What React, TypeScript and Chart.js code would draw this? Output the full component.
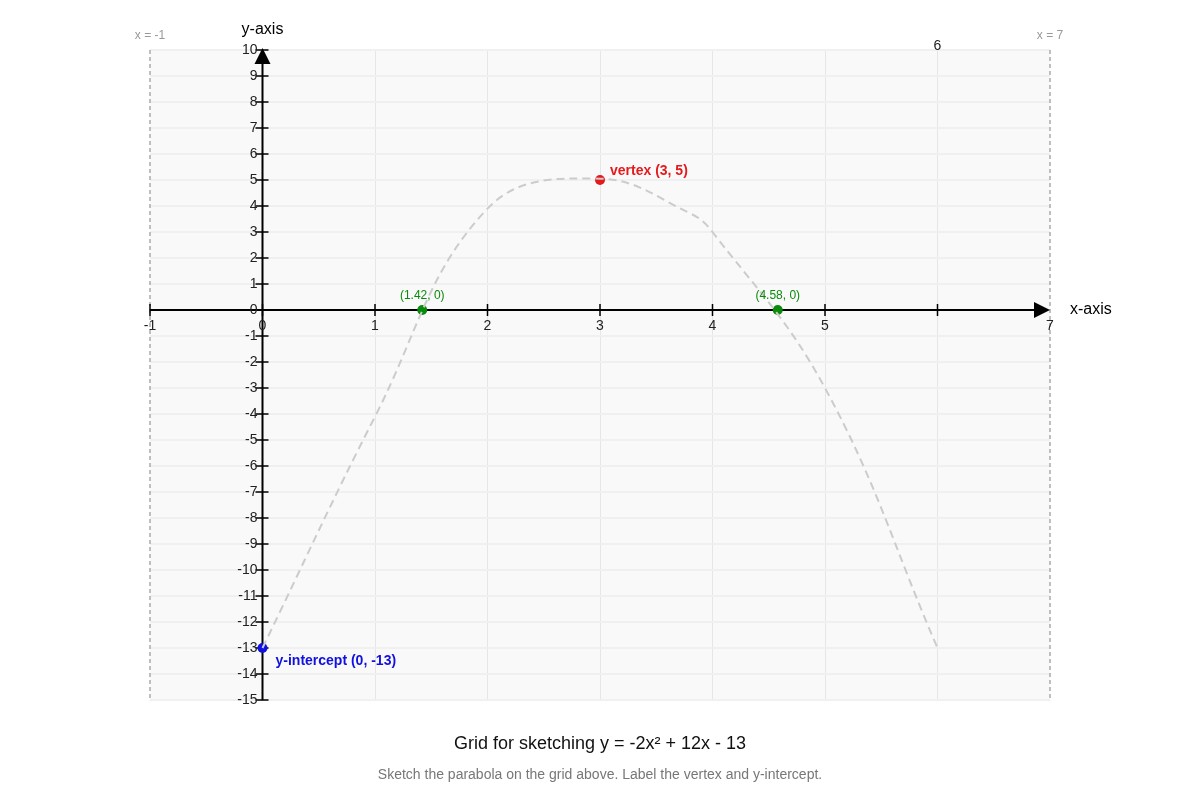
import React, { useEffect, useRef } from 'react';
import Chart from 'chart.js/auto';

// sketched parabola
const curveX = [0, 1, 2, 3, 3.8, 4, 5, 6];
const curveY = [-13, -4.1, 3.9, 5.05, 3.72, 3, -3, -13];

// labelled points: vertex, the two roots, y-intercept
const markX = [3, 1.42, 4.58, 0];
const markY = [5, 0, 0, -13];
const markColors = ['#e41a1c', '#0a8a0a', '#0a8a0a', '#1010e0'];
const markLabels = ['vertex (3, 5)', '(1.42, 0)', '(4.58, 0)', 'y-intercept (0, -13)'];

const xTicks = [-1, 0, 1, 2, 3, 4, 5, 6, 7];
const xTickLabels = ['-1', '0', '1', '2', '3', '4', '5', '', '7'];
const yTicks = [10, 9, 8, 7, 6, 5, 4, 3, 2, 1, 0, -1, -2, -3, -4, -5, -6, -7, -8, -9, -10, -11, -12, -13, -14, -15];

const X_MIN = -1;
const X_MAX = 7;
const Y_MIN = -15;
const Y_MAX = 10;

const FONT = "'Liberation Sans', Arial, sans-serif";

const sketchPlugin = {
  id: 'sketchAxes',
  beforeDraw(chart: any) {
    const { ctx, chartArea: a } = chart;
    ctx.save();
    ctx.fillStyle = '#f9f9f9';
    ctx.fillRect(a.left, a.top, a.right - a.left, a.bottom - a.top);
    ctx.restore();
  },
  beforeDatasetsDraw(chart: any) {
    const { ctx, chartArea: a, scales } = chart;
    const xs = scales.x;
    const ys = scales.y;
    const x0 = xs.getPixelForValue(0);
    const y0 = ys.getPixelForValue(0);
    ctx.save();

    // dashed bounds at x = -1 and x = 7
    ctx.strokeStyle = '#aaaaaa';
    ctx.lineWidth = 1.5;
    ctx.setLineDash([4, 3]);
    [X_MIN, X_MAX].forEach((v) => {
      const px = xs.getPixelForValue(v);
      ctx.beginPath();
      ctx.moveTo(px, a.top);
      ctx.lineTo(px, a.bottom);
      ctx.stroke();
    });
    ctx.setLineDash([]);

    ctx.fillStyle = '#999999';
    ctx.font = `12px ${FONT}`;
    ctx.textAlign = 'center';
    ctx.textBaseline = 'middle';
    ctx.fillText('x = -1', xs.getPixelForValue(X_MIN), a.top - 14);
    ctx.fillText('x = 7', xs.getPixelForValue(X_MAX), a.top - 14);

    // axes
    ctx.strokeStyle = '#000000';
    ctx.lineWidth = 2;
    ctx.beginPath();
    ctx.moveTo(a.left, y0);
    ctx.lineTo(a.right - 12, y0);
    ctx.moveTo(x0, a.bottom);
    ctx.lineTo(x0, a.top + 12);
    ctx.stroke();

    // arrow heads
    ctx.fillStyle = '#000000';
    ctx.beginPath();
    ctx.moveTo(a.right, y0);
    ctx.lineTo(a.right - 16, y0 - 8);
    ctx.lineTo(a.right - 16, y0 + 8);
    ctx.closePath();
    ctx.fill();
    ctx.beginPath();
    ctx.moveTo(x0, a.top - 2);
    ctx.lineTo(x0 - 8, a.top + 14);
    ctx.lineTo(x0 + 8, a.top + 14);
    ctx.closePath();
    ctx.fill();

    // tick marks
    ctx.lineWidth = 1.5;
    ctx.beginPath();
    xTicks.forEach((v) => {
      if (v === X_MAX) return;
      const px = xs.getPixelForValue(v);
      ctx.moveTo(px, y0 - 6);
      ctx.lineTo(px, y0 + 6);
    });
    yTicks.forEach((v) => {
      const py = ys.getPixelForValue(v);
      ctx.moveTo(x0 - 7, py);
      ctx.lineTo(x0 + 6, py);
    });
    ctx.stroke();

    // tick labels
    ctx.font = `14px ${FONT}`;
    ctx.fillStyle = '#222222';
    ctx.textAlign = 'center';
    ctx.textBaseline = 'middle';
    xTicks.forEach((v, i) => {
      if (!xTickLabels[i]) return;
      ctx.fillText(xTickLabels[i], xs.getPixelForValue(v), y0 + 16);
    });
    // the 6 sits above the grid in the original
    ctx.fillText('6', xs.getPixelForValue(6), a.top - 4);

    ctx.textAlign = 'right';
    yTicks.forEach((v) => {
      ctx.fillText(String(v), x0 - 5, ys.getPixelForValue(v));
    });

    // axis names
    ctx.font = `16px ${FONT}`;
    ctx.fillStyle = '#000000';
    ctx.textAlign = 'center';
    ctx.fillText('y-axis', x0, a.top - 20);
    ctx.textAlign = 'left';
    ctx.fillText('x-axis', a.right + 20, y0);

    ctx.restore();
  },
  afterDatasetsDraw(chart: any) {
    const { ctx, chartArea: a, scales } = chart;
    const xs = scales.x;
    const ys = scales.y;
    ctx.save();
    ctx.textBaseline = 'middle';
    markX.forEach((v, i) => {
      const px = xs.getPixelForValue(v);
      const py = ys.getPixelForValue(markY[i]);
      ctx.fillStyle = markColors[i];
      if (i === 0) {
        ctx.font = `bold 14px ${FONT}`;
        ctx.textAlign = 'left';
        ctx.fillText(markLabels[i], px + 10, py - 9);
      } else if (i === 3) {
        ctx.font = `bold 14px ${FONT}`;
        ctx.textAlign = 'left';
        ctx.fillText(markLabels[i], px + 13, py + 13);
      } else {
        ctx.font = `12px ${FONT}`;
        ctx.textAlign = 'center';
        ctx.fillText(markLabels[i], px, py - 14);
      }
    });

    const cx = (a.left + a.right) / 2;
    ctx.textAlign = 'center';
    ctx.fillStyle = '#111111';
    ctx.font = `18px ${FONT}`;
    ctx.fillText('Grid for sketching y = -2x\u00b2 + 12x - 13', cx, a.bottom + 44);
    ctx.fillStyle = '#777777';
    ctx.font = `14px ${FONT}`;
    ctx.fillText('Sketch the parabola on the grid above. Label the vertex and y-intercept.', cx, a.bottom + 75);
    ctx.restore();
  },
};

function ParabolaGrid() {
  const chartRef = useRef<HTMLCanvasElement>(null);
  const chartInstance = useRef<Chart>();

  useEffect(() => {
    document.body.style.margin = '0';
    if (!chartRef.current) return;
    const ctx = chartRef.current.getContext('2d');
    if (!ctx) return;
    if (chartInstance.current) chartInstance.current.destroy();

    chartInstance.current = new Chart(ctx, {
      type: 'scatter',
      data: {
        datasets: [
          {
            label: 'sketch',
            data: curveX.map((x, i) => ({ x, y: curveY[i] })),
            showLine: true,
            borderColor: '#cccccc',
            borderWidth: 2,
            borderDash: [8, 5],
            tension: 0.4,
            pointRadius: 0,
          },
          {
            label: 'points',
            data: markX.map((x, i) => ({ x, y: markY[i] })),
            pointRadius: 5,
            pointBackgroundColor: markColors,
            pointBorderColor: markColors,
            borderWidth: 0,
          },
        ],
      },
      options: {
        responsive: false,
        animation: false,
        events: [],
        layout: { padding: { left: 150, right: 150, top: 50, bottom: 100 } },
        plugins: {
          legend: { display: false },
          tooltip: { enabled: false },
          title: { display: false },
        },
        scales: {
          x: {
            type: 'linear',
            min: X_MIN,
            max: X_MAX,
            ticks: { display: false, stepSize: 1 },
            border: { display: false },
            grid: {
              drawTicks: false,
              lineWidth: 1,
              color: (c: any) =>
                c.tick && (c.tick.value === X_MIN || c.tick.value === X_MAX) ? 'rgba(0,0,0,0)' : '#e6e6e6',
            },
          },
          y: {
            type: 'linear',
            min: Y_MIN,
            max: Y_MAX,
            ticks: { display: false, stepSize: 1 },
            border: { display: false },
            grid: { drawTicks: false, lineWidth: 2, color: '#f0f0f0' },
          },
        },
      },
      plugins: [sketchPlugin],
    });

    return () => {
      if (chartInstance.current) {
        chartInstance.current.destroy();
        chartInstance.current = undefined;
      }
    };
  }, []);

  return (
    <div style={{ width: 1200, height: 800 }}>
      <canvas ref={chartRef} width={1200} height={800}></canvas>
    </div>
  );
}

export default ParabolaGrid;
